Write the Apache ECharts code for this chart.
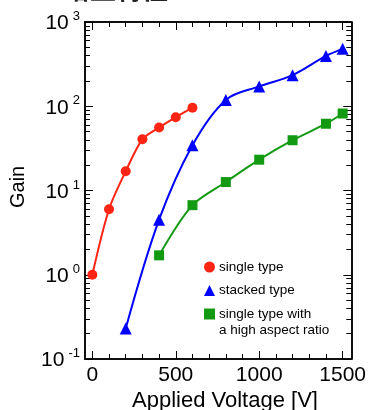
<!DOCTYPE html>
<html>
<head>
<meta charset="utf-8">
<script src="https://cdn.jsdelivr.net/npm/echarts@6/dist/echarts.min.js"></script>
<style>
  html, body { margin: 0; padding: 0; background: #fff; }
  #chart { width: 369px; height: 410px; }
</style>
</head>
<body>
<div id="chart"></div>
<script>
// voltage (V) vs gain
const singleX = [0, 100, 200, 300, 400, 500, 600];
const singleGain = [1.0, 6.0, 16.9, 40.5, 56, 74, 96];

const stackedX = [200, 400, 600, 800, 1000, 1200, 1400, 1500];
const stackedGain = [0.23, 4.5, 34.5, 119, 172, 234, 395, 480];

const aspectX = [400, 600, 800, 1000, 1200, 1400, 1500];
const aspectGain = [1.7, 6.7, 12.6, 23.2, 39.5, 62, 82];

const xMajorTicks = [0, 500, 1000, 1500];
const xMinorTicks = [0, 100, 200, 300, 400, 500, 600, 700, 800, 900, 1000, 1100, 1200, 1300, 1400, 1500];
const yMajorTicks = [0.1, 1, 10, 100, 1000];
const yMinorTicks = [
  0.1, 0.2, 0.3, 0.4, 0.5, 0.6, 0.7, 0.8, 0.9,
  1, 2, 3, 4, 5, 6, 7, 8, 9,
  10, 20, 30, 40, 50, 60, 70, 80, 90,
  100, 200, 300, 400, 500, 600, 700, 800, 900, 1000
];

const names = ["single type", "stacked type", "single type with"];
const nameExtra = "a high aspect ratio";
const colors = ["#ff2414", "#0000ff", "#139a13"];

const FONT = "Liberation Sans, Arial, sans-serif";
const zip = (xs, ys) => xs.map((x, i) => [x, ys[i]]);

const X_MIN = -44, X_MAX = 1552;

function xAxisDef(pos, ticks, len, showLabel) {
  return {
    type: "value",
    position: pos,
    min: X_MIN,
    max: X_MAX,
    axisLine: { show: true, onZero: false, lineStyle: { color: "#000", width: 1.5 } },
    axisTick: { show: true, inside: true, length: len, customValues: ticks, lineStyle: { color: "#000", width: 1 } },
    axisLabel: showLabel
      ? { show: true, customValues: xMajorTicks, formatter: (v) => String(v), color: "#000", fontSize: 21, fontFamily: FONT, margin: 6 }
      : { show: false },
    splitLine: { show: false },
  };
}

function yAxisDef(pos, ticks, len, showLabel) {
  return {
    type: "log",
    logBase: 10,
    position: pos,
    min: 0.1,
    max: 1000,
    axisLine: { show: true, onZero: false, lineStyle: { color: "#000", width: 1.5 } },
    axisTick: { show: true, inside: true, length: len, customValues: ticks, lineStyle: { color: "#000", width: 1 } },
    axisLabel: showLabel
      ? {
          show: true,
          customValues: yMajorTicks,
          margin: 5,
          formatter: (v) => "{b|10}{s|" + Math.round(Math.log10(v)) + "}",
          rich: {
            b: { fontSize: 21, fontFamily: FONT, color: "#000", verticalAlign: "bottom" },
            s: { fontSize: 13, fontFamily: FONT, color: "#000", padding: [0, 0, 11, 4], verticalAlign: "bottom" },
          },
        }
      : { show: false },
    splitLine: { show: false },
  };
}

const chart = echarts.init(document.getElementById("chart"), null, { renderer: "canvas" });

chart.setOption({
  backgroundColor: "#fff",
  animation: false,
  title: {
    text: "{d|●}     {t|增益特性}",
    left: 22,
    top: -29,
    textStyle: {
      rich: {
        d: { color: "#5fcf5f", fontSize: 20 },
        t: { color: "#222", fontSize: 26, fontFamily: "Noto Sans CJK SC" },
      },
    },
  },
  grid: { left: 85, right: 17, top: 22, bottom: 51 },
  xAxis: [
    xAxisDef("bottom", xMajorTicks, 8, true),
    xAxisDef("bottom", xMinorTicks, 5, false),
    xAxisDef("top", xMajorTicks, 8, false),
    xAxisDef("top", xMinorTicks, 5, false),
  ],
  yAxis: [
    yAxisDef("left", yMajorTicks, 8, true),
    yAxisDef("left", yMinorTicks, 5, false),
    yAxisDef("right", yMajorTicks, 8, false),
    yAxisDef("right", yMinorTicks, 5, false),
  ],
  graphic: [
    {
      type: "text",
      left: 132,
      top: 390,
      style: { text: "Applied Voltage [V]", font: "22px " + FONT, fill: "#000" },
    },
    {
      type: "text",
      x: 8,
      y: 208,
      rotation: Math.PI / 2,
      style: { text: "Gain", font: "20px " + FONT, fill: "#000" },
    },
    {
      type: "text",
      left: 219,
      top: 323,
      style: { text: nameExtra, font: "13.5px " + FONT, fill: "#000" },
    },
  ],
  legend: {
    orient: "vertical",
    left: 204,
    top: 260,
    padding: 0,
    itemWidth: 11,
    itemHeight: 11,
    itemGap: 9.5,
    textStyle: { fontSize: 13.5, fontFamily: FONT, color: "#000", padding: [0, 0, 0, -1] },
    data: [
      { name: names[0], icon: "circle" },
      { name: names[1], icon: "triangle" },
      { name: names[2], icon: "rect" },
    ],
  },
  series: [
    {
      name: names[0],
      type: "line",
      data: zip(singleX, singleGain),
      smooth: 0.3,
      symbol: "circle",
      symbolSize: 10,
      lineStyle: { color: colors[0], width: 2 },
      itemStyle: { color: colors[0] },
    },
    {
      name: names[1],
      type: "line",
      data: zip(stackedX, stackedGain),
      smooth: 0.35,
      symbol: "triangle",
      symbolSize: 12,
      lineStyle: { color: colors[1], width: 2 },
      itemStyle: { color: colors[1] },
    },
    {
      name: names[2],
      type: "line",
      data: zip(aspectX, aspectGain),
      smooth: 0.3,
      symbol: "rect",
      symbolSize: 10,
      lineStyle: { color: colors[2], width: 2 },
      itemStyle: { color: colors[2] },
    },
  ],
});
</script>
</body>
</html>
